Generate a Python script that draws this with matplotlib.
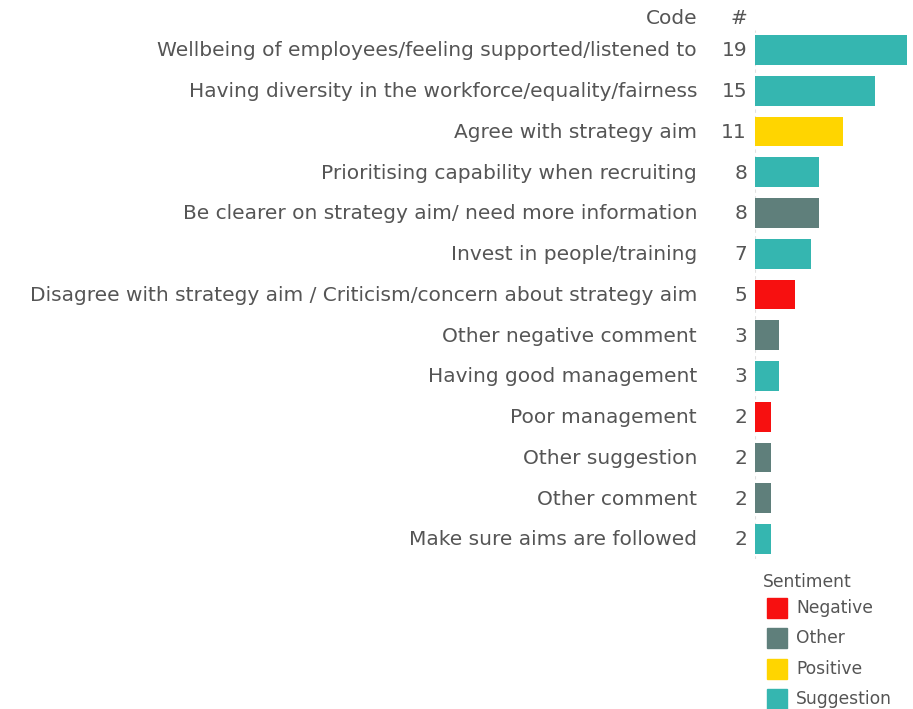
import matplotlib
matplotlib.use("Agg")
import matplotlib.pyplot as plt
from matplotlib.patches import Rectangle
import matplotlib.transforms as mtransforms

codes = [
    "Wellbeing of employees/feeling supported/listened to",
    "Having diversity in the workforce/equality/fairness",
    "Agree with strategy aim",
    "Prioritising capability when recruiting",
    "Be clearer on strategy aim/ need more information",
    "Invest in people/training",
    "Disagree with strategy aim / Criticism/concern about strategy aim",
    "Other negative comment",
    "Having good management",
    "Poor management",
    "Other suggestion",
    "Other comment",
    "Make sure aims are followed",
]
counts = [19, 15, 11, 8, 8, 7, 5, 3, 3, 2, 2, 2, 2]
sentiment = ["Suggestion", "Suggestion", "Positive", "Suggestion", "Other", "Suggestion",
             "Negative", "Other", "Suggestion", "Negative", "Other", "Other", "Suggestion"]
legend_labels = ["Negative", "Other", "Positive", "Suggestion"]
colors = {"Negative": "#F71010", "Other": "#5F7F7B", "Positive": "#FFD500", "Suggestion": "#35B6B0"}

plt.rcParams['font.family'] = ['DejaVu Sans']
W, H = 913, 709
fig = plt.figure(figsize=(W / 100, H / 100), dpi=100)
txt = "#555555"

row0, step = 50, 40.75
n = len(codes)
top = row0 - step / 2
bot = row0 + step * (n - 1) + step / 2
x0, x1 = 754.5, 907
ax = fig.add_axes([x0 / W, 1 - bot / H, (x1 - x0) / W, (bot - top) / H])
ax.set_xlim(0, 19)
ax.set_ylim(n - 0.5, -0.5)
ax.axis("off")
ax.axvline(0, color="#e0e0e0", lw=0.8, ls=(0, (3, 3)), zorder=0)
ax.barh(range(n), counts, height=0.736, color=[colors[s] for s in sentiment], edgecolor="none", zorder=2)

fs = 14.5
tr = mtransforms.blended_transform_factory(fig.transFigure, ax.transData)
for i, (c, v) in enumerate(zip(codes, counts)):
    ax.text(697 / W, i + 0.02, c, transform=tr, ha="right", va="center", fontsize=fs, color=txt)
    ax.text(747 / W, i + 0.02, str(v), transform=tr, ha="right", va="center", fontsize=fs, color=txt)

fig.text(697 / W, 1 - 18 / H, "Code", ha="right", va="center", fontsize=fs, color=txt)
fig.text(747 / W, 1 - 18 / H, "#", ha="right", va="center", fontsize=fs, color=txt)

# legend
lfs = 12.3
fig.text(763 / W, 1 - 582 / H, "Sentiment", ha="left", va="center", fontsize=lfs, color=txt)
for k, lab in enumerate(legend_labels):
    yc = 608 + 30.3 * k
    fig.patches.append(Rectangle((767 / W, 1 - (yc + 10) / H), 20 / W, 20 / H,
                                 transform=fig.transFigure, color=colors[lab]))
    fig.text(796 / W, 1 - yc / H, lab, ha="left", va="center", fontsize=lfs, color=txt)

fig.savefig("out.png", dpi=100)
